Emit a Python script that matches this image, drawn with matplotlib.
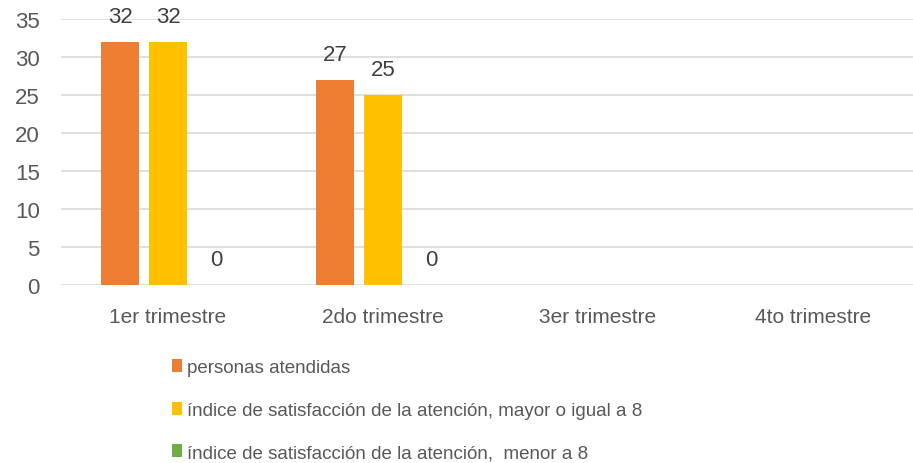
import numpy as np
import matplotlib.pyplot as plt
from matplotlib.patches import Patch

# --- DATA ---
trimestres = ["1er trimestre", "2do trimestre", "3er trimestre", "4to trimestre"]
personas = [32, 27, None, None]
satisf_mayor = [32, 25, None, None]
satisf_menor = [0, 0, None, None]
series_names = [
    "personas atendidas",
    "índice de satisfacción de la atención, mayor o igual a 8",
    "índice de satisfacción de la atención,  menor a 8",
]
colors = ["#ED7D31", "#FFC000", "#70AD47"]

plt.rcParams["font.family"] = ["Liberation Sans", "DejaVu Sans"]
TXT = "#595959"

fig = plt.figure(figsize=(9.13, 4.64), dpi=100)
ax = fig.add_axes([0.0663, 0.3836, 0.942, 0.5734])

x = np.arange(len(trimestres))
width = 0.177
offsets = [-0.223, 0.0, 0.223]

for vals, off, col in zip([personas, satisf_mayor, satisf_menor], offsets, colors):
    for xi, v in zip(x, vals):
        if v is None:
            continue
        ax.bar(xi + off, v, width=width, color=col, zorder=3)
        ax.text(xi + off, v + 2.0, str(v), ha="center", va="bottom",
                fontsize=16, color="#404040")

ax.set_xlim(-0.5, len(trimestres) - 0.5)
ax.set_ylim(0, 35)
ax.set_yticks(range(0, 36, 5))
ax.set_xticks(x)
ax.set_xticklabels(trimestres)
ax.yaxis.grid(True, color="#d9d9d9", linewidth=1.2, zorder=0)
ax.tick_params(axis="both", length=0, labelcolor=TXT)
ax.tick_params(axis="x", pad=16, labelsize=15)
ax.tick_params(axis="y", pad=15, labelsize=16)
for s in ax.spines.values():
    s.set_visible(False)

handles = [Patch(facecolor=c, edgecolor="none") for c in colors]
fig.legend(handles, series_names, loc="upper left", bbox_to_anchor=(0.188, 0.224),
           frameon=False, fontsize=13.5, labelcolor=TXT, handlelength=0.55,
           handleheight=0.7, handletextpad=0.25, labelspacing=1.35,
           borderaxespad=0, borderpad=0)

fig.savefig("out.png", dpi=100)
